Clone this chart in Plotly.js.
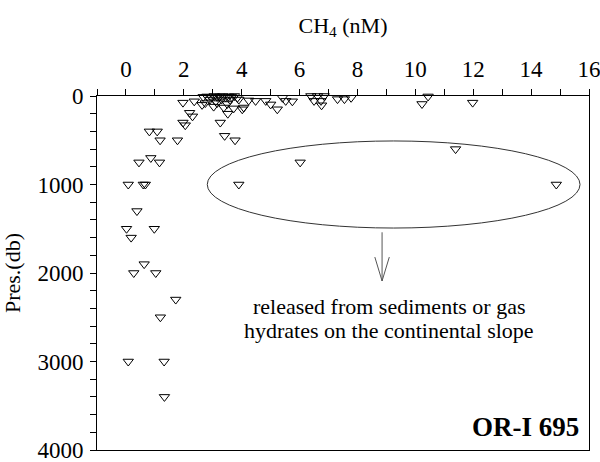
<!DOCTYPE html>
<html>
<head>
<meta charset="utf-8">
<script src="https://cdn.plot.ly/plotly-3.0.1.min.js"></script>
<style>html,body{margin:0;padding:0;background:#fff;}#chart{width:600px;height:462px;}</style>
</head>
<body>
<div id="chart"></div>
<script>
// CH4 concentration (nM)
const ch4 = [
  1.97, 2.36, 2.63, 2.20, 2.30, 1.97, 2.05, 0.81, 1.08, 1.18, 1.78,
  3.26, 3.52, 3.41, 3.77, 0.45, 0.86, 1.16, 0.08, 0.60, 0.67, 3.90,
  0.38, 0.02, 0.98, 0.18, 0.63, 0.27, 1.03, 1.72, 1.19, 0.08, 1.32, 1.33,
  6.02, 11.39, 14.87, 10.44, 10.23, 11.98,
  2.67, 2.80, 2.95, 3.05, 3.15, 3.25, 3.35, 3.45, 3.55, 3.65, 3.75, 3.85,
  2.74, 3.15, 3.50, 3.03, 3.38, 3.72, 2.90, 3.30, 3.60, 3.10, 3.90,
  4.24, 4.48, 4.07, 4.02, 4.83, 5.00, 5.23, 5.41, 5.52, 5.75,
  6.39, 6.62, 6.85, 6.50, 6.74, 6.76, 7.31, 7.55, 7.78
];
// Pressure (db)
const pres = [
  75, 60, 100, 190, 230, 300, 330, 400, 400, 500, 500,
  300, 200, 450, 500, 750, 700, 750, 1000, 1000, 1000, 1000,
  1300, 1500, 1500, 1600, 1900, 2000, 2000, 2300, 2500, 3000, 3000, 3400,
  750, 600, 1000, 5, 90, 75,
  10, 5, 15, 0, 10, 5, 0, 15, 5, 10, 0, 20,
  80, 80, 90, 120, 130, 140, 40, 40, 45, 60, 40,
  50, 55, 130, 150, 55, 95, 150, 20, 55, 60,
  0, 0, 0, 55, 55, 105, 35, 35, 20
];
const xTickVals = [0, 2, 4, 6, 8, 10, 12, 14, 16];
const yTickVals = [0, 1000, 2000, 3000, 4000];
const noteLines = ["released from sediments or gas", "hydrates on the continental slope"];
const stationLabel = "OR-I 695";

const serif = "'Liberation Serif', 'Times New Roman', serif";

const trace = {
  x: ch4, y: pres, type: "scatter", mode: "markers", cliponaxis: false,
  marker: {symbol: "triangle-down-open", size: 9, color: "#000", line: {width: 1, color: "#000"}},
  hoverinfo: "skip"
};

const layout = {
  width: 600, height: 462,
  margin: {l: 97, r: 11, t: 96, b: 12},
  paper_bgcolor: "#fff", plot_bgcolor: "#fff",
  showlegend: false,
  font: {family: serif, size: 22, color: "#000"},
  xaxis: {
    side: "top", range: [-1, 16], tickvals: xTickVals,
    ticks: "outside", ticklen: 6, tickwidth: 1, tickcolor: "#000",
    ticklabeloverflow: "allow", ticklabelstandoff: 3,
    minor: {dtick: 1, tick0: 0, ticks: "outside", ticklen: 6, tickwidth: 1, tickcolor: "#000"},
    showline: true, linecolor: "#000", linewidth: 1, mirror: true,
    showgrid: false, zeroline: false,
    tickfont: {family: serif, size: 23, color: "#000"},
    title: {text: "CH<sub>4</sub> (nM)", font: {family: serif, size: 22, color: "#000"}, standoff: 17}
  },
  yaxis: {
    range: [4000, 0], tickvals: yTickVals,
    ticks: "outside", ticklen: 6, tickwidth: 1, tickcolor: "#000",
    ticklabeloverflow: "allow", ticklabelstandoff: 2,
    minor: {dtick: 200, tick0: 0, ticks: "outside", ticklen: 6, tickwidth: 1, tickcolor: "#000"},
    showline: true, linecolor: "#000", linewidth: 1, mirror: true,
    showgrid: false, zeroline: false,
    tickfont: {family: serif, size: 23, color: "#000"},
    title: {text: "Pres.(db)", font: {family: serif, size: 22, color: "#000"}, standoff: 15}
  },
  shapes: [
    {type: "circle", xref: "x", yref: "y", x0: 2.81, x1: 15.69, y0: 508, y1: 1492,
     line: {color: "#333", width: 1}},
    {type: "path", xref: "x", yref: "y", path: "M 8.85 1540 L 8.85 2090",
     line: {color: "#555", width: 1}},
    {type: "path", xref: "x", yref: "y", path: "M 8.60 1820 L 8.85 2090 L 9.10 1820",
     line: {color: "#555", width: 1}}
  ],
  annotations: [
    {xref: "x", yref: "y", x: 9.1, y: 2375, text: noteLines[0], showarrow: false,
     font: {family: serif, size: 22, color: "#000"}},
    {xref: "x", yref: "y", x: 9.1, y: 2645, text: noteLines[1], showarrow: false,
     font: {family: serif, size: 22, color: "#000"}},
    {xref: "paper", yref: "paper", x: 0.983, y: 0.018, xanchor: "right", yanchor: "bottom",
     text: "<b>" + stationLabel + "</b>", showarrow: false,
     font: {family: serif, size: 27, color: "#000"}}
  ]
};

Plotly.newPlot("chart", [trace], layout, {displayModeBar: false, staticPlot: true});
</script>
</body>
</html>
